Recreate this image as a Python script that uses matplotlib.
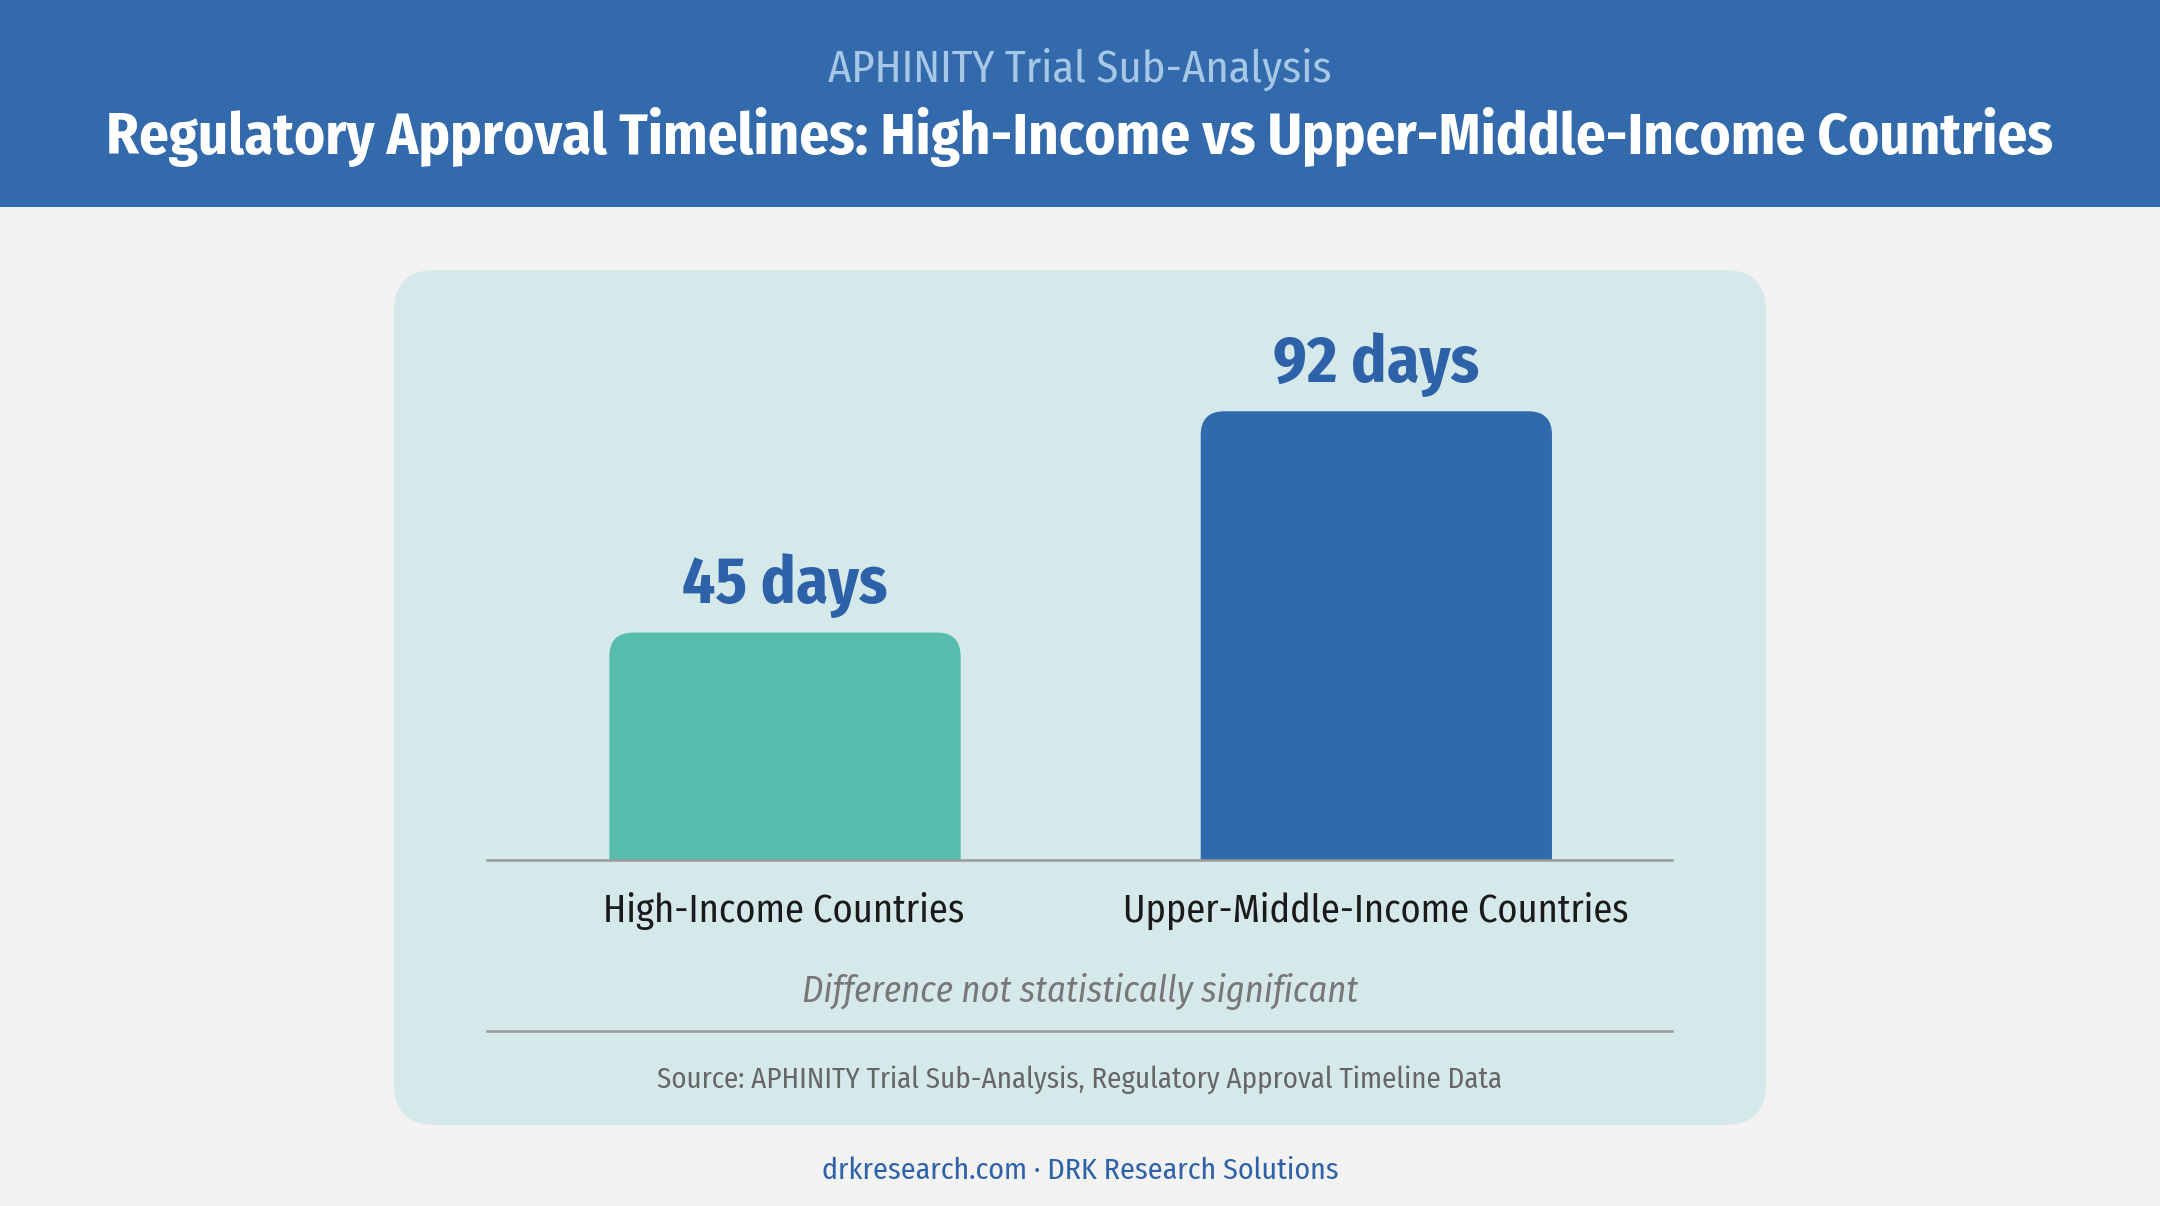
import matplotlib
matplotlib.use("Agg")
from matplotlib import pyplot as plt
from matplotlib import font_manager as fm
from matplotlib.patches import Rectangle, FancyBboxPatch

# chart data
categories = ["High-Income Countries", "Upper-Middle-Income Countries"]
days = [45, 92]
bar_colors = ["#58BCAD", "#3169AD"]
value_labels = ["45 days", "92 days"]

supertitle = "APHINITY Trial Sub-Analysis"
title = "Regulatory Approval Timelines: High-Income vs Upper-Middle-Income Countries"
note = "Difference not statistically significant"
source = "Source: APHINITY Trial Sub-Analysis, Regulatory Approval Timeline Data"
footer = "drkresearch.com \u00b7 DRK Research Solutions"

W, H = 2160, 1206

names = {f.name for f in fm.fontManager.ttflist}
font = next((n for n in ["Fira Sans Condensed", "Roboto Condensed", "Open Sans Condensed",
                         "Liberation Sans Narrow", "Arial Narrow", "Roboto", "Liberation Sans"]
             if n in names), "DejaVu Sans")
plt.rcParams['font.family'] = [font, 'DejaVu Sans']

fig = plt.figure(figsize=(W / 100, H / 100), dpi=100)
fig.patch.set_facecolor("#F1F2F1")


def fx(px):
    return px / W


def fy(py):
    return 1 - py / H


# header band
fig.patches.append(Rectangle((0, fy(207)), 1, 207 / H, transform=fig.transFigure,
                             facecolor="#336AAC", edgecolor="none", zorder=-2))
# rounded panel
fig.patches.append(FancyBboxPatch((fx(394), fy(1125)), (1766 - 394) / W, (1125 - 270) / H,
                                  boxstyle="round,pad=0,rounding_size=0.019",
                                  mutation_aspect=W / H, transform=fig.transFigure,
                                  facecolor="#D6E9EA", edgecolor="none", zorder=-2))

renderer = fig.canvas.get_renderer()


def fit_text(x, y, s, width, size, **kw):
    t = fig.text(fx(x), fy(y + 3), s, ha="center", va="center", fontsize=size, **kw)
    w = t.get_window_extent(renderer).width
    t.set_fontsize(size * width / w)
    return t


fit_text(1080, 66, supertitle, 503, 30, color="#A6C8E6")
fit_text(1080, 134, title, 1947, 44, color="white", fontweight="bold")

# bar axes
ax = fig.add_axes([fx(487), fy(860), (1672 - 487) / W, (860 - 270) / H])
ax.set_facecolor("none")
ax.set_xlim(-0.504, 1.50)
ax.set_ylim(-3.3, 122.0)
x = list(range(len(categories)))
bars = ax.bar(x, days, width=0.594, color=bar_colors)

# rounded top corners
px_x = (1672 - 487) / 2.004
px_y = (860 - 270) / 125.3
r = 0.04
for b, c in zip(bars, bar_colors):
    b.set_visible(False)
    p = FancyBboxPatch((b.get_x(), -20), b.get_width(), b.get_height() + 20,
                       boxstyle=f"round,pad=0,rounding_size={r}",
                       mutation_aspect=px_x / px_y, facecolor=c, edgecolor="none",
                       clip_on=True, zorder=2)
    ax.add_patch(p)
    p.set_clip_box(ax.bbox)

for xi, v, lab in zip(x, days, value_labels):
    t = ax.annotate(lab, (xi, v), xytext=(0, 33.5), textcoords="offset points",
                    ha="center", va="center", fontsize=56, fontweight="bold", color="#2E62A8")
    w = t.get_window_extent(renderer).width
    t.set_fontsize(56 * 206 / w)

for s in ["top", "left", "right"]:
    ax.spines[s].set_visible(False)
ax.spines["bottom"].set_color("#999999")
ax.spines["bottom"].set_linewidth(1.8)
ax.spines["bottom"].set_zorder(3)
ax.set_yticks([])
ax.set_xticks([])

fit_text(784, 908, categories[0], 361, 28, color="#1A1A1A")
fit_text(1376, 908, categories[1], 505, 28, color="#1A1A1A")

fit_text(1080, 988, note, 556, 28, color="#777777", fontstyle="italic")
fig.lines.append(plt.Line2D([fx(487), fx(1672)], [fy(1031), fy(1031)], transform=fig.transFigure,
                            color="#999999", linewidth=1.8))
fit_text(1080, 1077, source, 845, 22, color="#666666")
fit_text(1080, 1168, footer, 516, 26, color="#2E62A8")

fig.savefig("out.png", dpi=100, facecolor=fig.get_facecolor())
